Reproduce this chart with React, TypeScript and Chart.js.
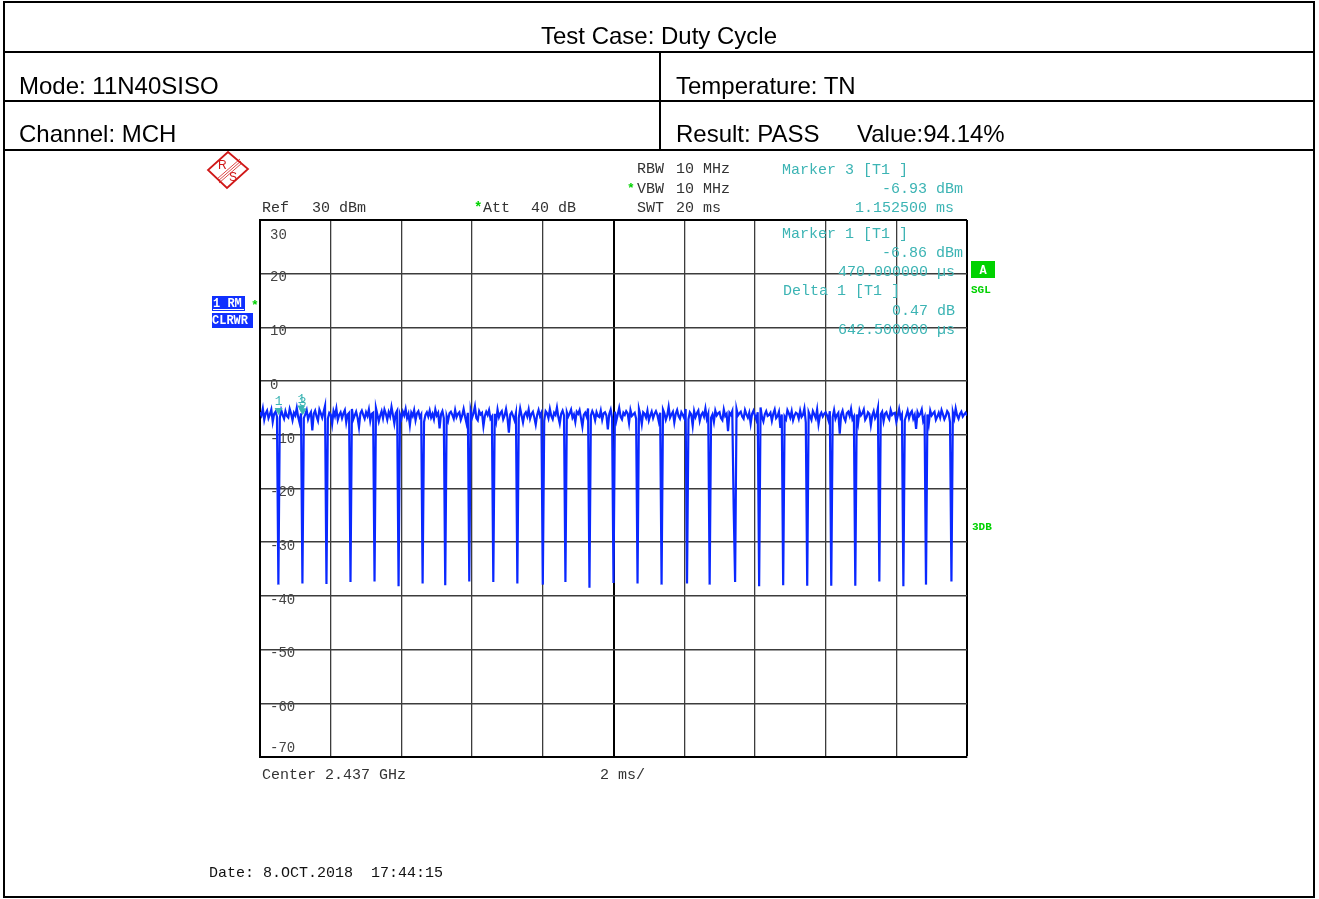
import React, { useEffect, useRef } from 'react';
import { Chart, registerables } from 'chart.js';

Chart.register(...registerables);

// ---------------- data ----------------
const sweepStepMs = 0.04; // 501 sweep points over 20 ms
const sweepStartMs = 0;
const sweepEndMs = 20;
const refMin = -70;
const refMax = 30;

// noisy burst level (dBm)
const baselineDbm = [
  -5.8,-6.4,-5.1,-7.2,-6.0,-5.5,-6.9,-6.2,-5.3,-7.6,-6.1,-5.7,-6.6,-8.3,-6.9,-5.4,-6.3,-7.0,-5.6,-6.5,
  -6.8,-5.2,-6.1,-7.3,-5.9,-6.4,-5.0,-6.7,-7.8,-6.0,-5.6,-6.9,-6.2,-5.4,-7.1,-6.3,-5.8,-9.2,-6.1,-5.5,
  -6.6,-7.4,-5.3,-6.0,-6.8,-5.7,-4.6,-6.4,-7.0,-5.9,-6.2,-8.0,-5.6,-6.5,-5.1,-7.2,-6.3,-5.8,-6.9,-6.0,
  -5.4,-7.7,-6.2,-5.9,-6.6,-5.2,-7.1,-6.4,-5.7,-6.8,-8.6,-6.0,-5.5,-6.3,-7.0,-5.8,-6.5,-5.3,-7.4,-6.1,
  -5.9,-6.7,-5.0,-6.2,-7.5,-6.4,-5.6,-6.9,-5.3,-6.1,-7.2,-5.8,-6.6,-4.8,-6.3,-7.9,-6.0,-5.5,-6.8,-6.2,
  -7.0,-5.7,-6.4,-5.2,-6.9,-6.1,-8.2,-5.9,-6.5,-5.4,-7.3,-6.0,-5.6,-6.7,-6.2,-5.1,-7.6,-6.3,-5.8,-6.6,
  -5.5,-6.8,-6.1,-7.1,-5.3,-6.4,-5.9,-8.8,-6.2,-5.6,-6.9,-5.0,-6.5,-7.4,-6.0,-5.7,-6.3,-7.0,-5.4,-6.7,
  -6.1,-5.8,-7.2,-6.4,-5.2,-6.6,-7.8,-5.9,-6.3,-5.5,-6.8,-6.0,-4.7,-6.9,-7.3,-5.6,-6.2,-5.9,-8.4,-6.5,
  -5.7,-6.3,-5.4,-7.0,-6.6,-5.9,-6.1,-7.5,-5.3,-6.7,-6.0,-5.6,-7.1,-6.4,-5.2,-6.8,-9.6,-6.2,-5.8,-6.5,
  -7.3,-6.0,-5.5,-6.9,-5.1,-6.4,-7.7,-6.2,-5.8,-6.6,-5.3,-7.0,-6.1,-5.7,-6.8,-8.1,-6.3,-5.4,-6.5,-5.9,
  -6.2,-7.4,-5.6,-6.0,-6.9,-5.2,-6.5,-7.1,-5.9,-6.3,-4.9,-6.7,-7.9,-6.1,-5.5,-6.4,-7.2,-5.8,-6.6,-6.0,
  -5.3,-6.8,-6.2,-7.6,-5.7,-6.1,-5.4,-6.9,-8.5,-6.3,-5.9,-6.6,-5.1,-7.0,-6.4,-5.6,-6.2,-7.3,-5.8,-6.5,
  -6.7,-5.5,-7.2,-6.0,-5.8,-6.4,-9.0,-6.1,-5.3,-6.9,-6.5,-5.7,-7.4,-6.2,-5.0,-6.6,-7.1,-5.9,-6.3,-5.6,
  -6.0,-7.8,-5.4,-6.5,-6.2,-5.9,-7.0,-6.7,-5.2,-6.3,-8.0,-5.8,-6.1,-6.8,-5.5,-7.3,-6.4,-5.7,-6.9,-6.1,
  -5.6,-6.3,-7.5,-5.9,-6.6,-5.3,-6.0,-7.2,-6.4,-4.8,-6.8,-6.2,-5.7,-7.7,-6.1,-5.4,-6.5,-7.0,-5.8,-6.3,
  -6.9,-5.2,-6.4,-7.1,-5.8,-6.2,-8.3,-5.6,-6.7,-6.0,-5.5,-7.4,-6.3,-5.9,-6.6,-5.1,-7.0,-6.1,-5.7,-6.8,
  -6.2,-7.6,-5.5,-6.4,-6.0,-5.8,-6.9,-7.3,-5.3,-6.5,-6.1,-9.3,-5.9,-6.3,-5.6,-7.1,-6.7,-5.2,-6.4,-6.0,
  -5.7,-6.6,-7.0,-5.4,-6.2,-6.8,-5.9,-7.9,-6.1,-5.5,-6.4,-7.2,-5.8,-6.0,-4.9,-6.7,-7.5,-6.2,-5.6,-6.5,
  -6.3,-5.9,-7.4,-6.1,-5.3,-6.9,-6.5,-5.7,-8.7,-6.2,-5.8,-6.6,-7.1,-5.4,-6.0,-6.8,-5.6,-7.3,-6.4,-5.9,
  -6.1,-7.0,-5.5,-6.7,-6.3,-5.1,-7.7,-6.0,-5.8,-6.5,-7.2,-5.6,-6.2,-6.9,-5.3,-8.0,-6.4,-5.9,-6.6,-6.1,
  -5.8,-6.4,-7.3,-5.6,-6.1,-6.7,-5.4,-7.0,-6.3,-5.9,-9.8,-6.2,-5.5,-6.8,-7.4,-6.0,-5.7,-6.5,-5.2,-7.1,
  -6.6,-5.9,-6.2,-7.8,-5.5,-6.4,-6.0,-5.3,-7.2,-6.7,-5.8,-6.1,-8.2,-6.4,-5.6,-6.9,-6.3,-5.0,-7.0,-6.2,
  -5.7,-7.5,-6.1,-5.8,-6.6,-7.1,-5.4,-6.3,-6.0,-5.9,-7.6,-6.5,-5.2,-6.8,-6.2,-5.7,-7.3,-6.4,-5.5,-6.9,
  -6.0,-5.6,-7.0,-6.3,-8.9,-5.8,-6.5,-6.1,-5.3,-7.4,-6.7,-5.9,-6.2,-7.9,-5.5,-6.4,-6.0,-5.7,-7.2,-6.6,
  -5.9,-6.8,-5.4,-6.2,-7.1,-6.5,-5.6,-6.0,-7.7,-6.3,-5.8,-6.9,-5.1,-6.4,-7.0,-6.1,-5.7,-6.6,-6.2,-5.9,
  -6.4,
];

// gaps between bursts (time in ms, floor level in dBm)
const dipTimeMs = [
  0.52, 1.20, 1.88, 2.56, 3.24, 3.92, 4.60, 5.24, 5.92, 6.60,
  7.28, 8.00, 8.64, 9.32, 10.00, 10.68, 11.36, 12.08, 12.72, 13.44,
  14.12, 14.80, 15.48, 16.16, 16.84, 17.52, 18.20, 18.84, 19.56,
];
const dipFloorDbm = [
  -37.9, -37.7, -37.8, -37.4, -37.3, -38.2, -37.7, -38.0, -37.3, -37.4,
  -37.7, -37.9, -37.4, -38.5, -37.6, -37.7, -37.9, -37.7, -37.9, -37.4,
  -38.2, -38.0, -38.1, -38.1, -38.1, -37.3, -38.2, -37.9, -37.3,
];
const partialDipTimeMs = [13.40];
const partialDipDbm = [-23.7];

// markers
const markerTimeMs = [0.47, 1.1125, 1.1525];
const markerDbm = [-6.86, -6.39, -6.93];
const markerLabels = ['1', '1', '3'];

const yTickValues = [30, 20, 10, 0, -10, -20, -30, -40, -50, -60, -70];

// ---------------- styles ----------------
const TRACE = '#0a28ff';
const TEAL = '#3cb4b4';
const GREEN = '#00d200';
const GRID = '#3c3c3c';
const TXT = '#333333';
const MONO = '"Liberation Mono", "Courier New", monospace';

const buildTrace = () => {
  const pts = baselineDbm.map((v, i) => ({ x: +(i * sweepStepMs).toFixed(3), y: v }));
  dipTimeMs.forEach((t, k) => {
    const i = Math.round(t / sweepStepMs);
    if (pts[i]) pts[i].y = dipFloorDbm[k];
  });
  partialDipTimeMs.forEach((t, k) => {
    const i = Math.round(t / sweepStepMs);
    if (pts[i]) pts[i].y = partialDipDbm[k];
  });
  return pts;
};

const overlayPlugin = {
  id: 'rsOverlay',
  beforeDraw(chart: any) {
    const ctx = chart.ctx;
    ctx.save();
    ctx.fillStyle = '#ffffff';
    ctx.fillRect(0, 0, chart.width, chart.height);
    ctx.restore();
  },
  beforeDatasetsDraw(chart: any) {
    const ctx = chart.ctx;
    const ys = chart.scales.y;
    const left = chart.chartArea.left;
    ctx.save();
    ctx.font = `14px ${MONO}`;
    ctx.fillStyle = '#444';
    ctx.textBaseline = 'middle';
    ctx.textAlign = 'left';
    yTickValues.forEach((v) => {
      const y = ys.getPixelForValue(v);
      const off = v === refMax ? 15 : v === refMin ? -9 : 4;
      ctx.fillText(String(v), left + 10, y + off);
    });
    ctx.restore();
  },
  afterDraw(chart: any) {
    const ctx = chart.ctx;
    const xs = chart.scales.x;
    const ys = chart.scales.y;
    ctx.save();

    // markers
    markerTimeMs.forEach((t, i) => {
      const px = xs.getPixelForValue(t) + 2;
      const py = ys.getPixelForValue(markerDbm[i]) - 3;
      ctx.fillStyle = TEAL;
      ctx.beginPath();
      ctx.moveTo(px, py);
      ctx.lineTo(px - 4, py - 7);
      ctx.lineTo(px + 4, py - 7);
      ctx.closePath();
      ctx.fill();
      ctx.font = `13px ${MONO}`;
      ctx.textAlign = 'center';
      ctx.textBaseline = 'middle';
      ctx.fillText(markerLabels[i], px, py - 13);
    });

    const t = (s: string, x: number, y: number, color = TXT, font = `15px ${MONO}`) => {
      ctx.font = font;
      ctx.fillStyle = color;
      ctx.textAlign = 'left';
      ctx.textBaseline = 'middle';
      ctx.fillText(s, x, y);
    };

    // header info
    t('RBW', 637, 169);
    t('10 MHz', 676, 169);
    t('*', 627, 189, GREEN, `bold 13px ${MONO}`);
    t('VBW', 637, 189);
    t('10 MHz', 676, 189);
    t('SWT', 637, 208);
    t('20 ms', 676, 208);
    t('Ref', 262, 208);
    t('30 dBm', 312, 208);
    t('*', 474, 208, GREEN, `bold 14px ${MONO}`);
    t('Att', 483, 208);
    t('40 dB', 531, 208);

    // marker readouts
    t('Marker 3 [T1 ]', 782, 170, TEAL);
    t('1.152500 ms', 855, 208, TEAL);
    t('Marker 1 [T1 ]', 782, 234, TEAL);
    t('470.000000 \u00b5s', 838, 272, TEAL);
    t('Delta 1 [T1 ]', 783, 291, TEAL);
    t('0.47 dB', 892, 311, TEAL);
    t('642.500000 \u00b5s', 838, 330, TEAL);
    ctx.save();
    ctx.beginPath();
    ctx.rect(0, 0, 964, chart.height);
    ctx.clip();
    t('-6.93 dBm', 882, 189, TEAL);
    t('-6.86 dBm', 882, 253, TEAL);
    ctx.restore();

    // footer
    t('Center 2.437 GHz', 262, 775);
    t('2 ms/', 600, 775);
    t('Date: 8.OCT.2018  17:44:15', 209, 873, '#111');

    // left trace labels
    ctx.fillStyle = '#1030ff';
    ctx.fillRect(212, 296, 33, 15);
    ctx.fillRect(212, 313, 41, 15);
    t('1 RM', 213, 304, '#ffffff', `bold 12px ${MONO}`);
    ctx.fillStyle = '#ffffff';
    ctx.fillRect(213, 309, 31, 1);
    t('CLRWR', 212, 321, '#ffffff', `bold 12px ${MONO}`);
    t('*', 251, 306, GREEN, `bold 13px ${MONO}`);

    // right status labels
    ctx.fillStyle = GREEN;
    ctx.fillRect(971, 261, 24, 17);
    ctx.font = `bold 12px ${MONO}`;
    ctx.fillStyle = '#ffffff';
    ctx.textAlign = 'center';
    ctx.textBaseline = 'middle';
    ctx.fillText('A', 983, 271);
    t('SGL', 971, 290, GREEN, `bold 11px ${MONO}`);
    t('3DB', 972, 527, GREEN, `bold 11px ${MONO}`);

    ctx.restore();
  },
};

const isEdge = (v: number, edges: number[]) => edges.includes(v);

function Instrument() {
  const ref = useRef<HTMLCanvasElement | null>(null);
  useEffect(() => {
    if (!ref.current) return;
    const chart = new Chart(ref.current, {
      type: 'line',
      data: {
        datasets: [
          {
            data: buildTrace(),
            borderColor: TRACE,
            borderWidth: 2.2,
            pointRadius: 0,
            tension: 0,
            fill: false,
            borderJoinStyle: 'miter',
          },
        ],
      },
      options: {
        animation: false,
        responsive: false,
        maintainAspectRatio: false,
        devicePixelRatio: 1,
        layout: { padding: { left: 260, top: 220, right: 352, bottom: 142 } },
        plugins: { legend: { display: false }, tooltip: { enabled: false } },
        scales: {
          x: {
            type: 'linear',
            min: sweepStartMs,
            max: sweepEndMs,
            ticks: { display: false, stepSize: 2 },
            grid: {
              drawTicks: false,
              color: (c: any) => (isEdge(c.tick?.value, [10, 20]) ? '#000' : GRID),
              lineWidth: (c: any) => (isEdge(c.tick?.value, [10, 20]) ? 2 : 1.3),
            },
            border: { display: true, color: '#000', width: 2 },
          },
          y: {
            type: 'linear',
            min: refMin,
            max: refMax,
            ticks: { display: false, stepSize: 10 },
            grid: {
              drawTicks: false,
              color: (c: any) => (c.tick?.value === refMax ? '#000' : GRID),
              lineWidth: (c: any) => (c.tick?.value === refMax ? 2 : 1.6),
            },
            border: { display: true, color: '#000', width: 2 },
          },
        },
      },
      plugins: [overlayPlugin],
    });
    return () => chart.destroy();
  }, []);
  return <canvas ref={ref} width={1319} height={899} style={{ position: 'absolute', left: 0, top: 0 }} />;
}

const hLine = (top: number) => (
  <div style={{ position: 'absolute', left: 3, top, width: 1312, height: 2, background: '#000' }} />
);

const label = (text: string, left: number, baseline: number, center = false) => (
  <div
    style={{
      position: 'absolute',
      left: center ? left - 300 : left,
      width: center ? 600 : undefined,
      textAlign: center ? 'center' : 'left',
      top: baseline - 20,
      fontFamily: '"Liberation Sans", Arial, sans-serif',
      fontSize: 24,
      lineHeight: '24px',
      whiteSpace: 'pre',
      color: '#000',
    }}
  >
    {text}
  </div>
);

export default function App() {
  return (
    <div style={{ position: 'fixed', left: 0, top: 0, width: 1319, height: 899, background: '#fff', overflow: 'hidden' }}>
      <Instrument />
      <div
        style={{
          position: 'absolute',
          left: 3,
          top: 1,
          width: 1312,
          height: 897,
          border: '2px solid #000',
          boxSizing: 'border-box',
        }}
      />
      {hLine(51)}
      {hLine(100)}
      {hLine(149)}
      <div style={{ position: 'absolute', left: 659, top: 51, width: 2, height: 100, background: '#000' }} />
      {label('Test Case: Duty Cycle', 659, 44, true)}
      {label('Mode: 11N40SISO', 19, 94)}
      {label('Channel: MCH', 19, 142)}
      {label('Temperature: TN', 676, 94)}
      {label('Result: PASS', 676, 142)}
      {label('Value:94.14%', 857, 142)}
      <svg width={46} height={42} style={{ position: 'absolute', left: 205, top: 150 }}>
        <polygon points="23,2 43,19 22,38 3,20" fill="none" stroke="#d01818" strokeWidth={1.8} />
        <line x1={35} y1={9} x2={12} y2={29} stroke="#d01818" strokeWidth={0.8} />
        <line x1={36} y1={11} x2={13} y2={31} stroke="#d01818" strokeWidth={0.8} />
        <line x1={37} y1={13} x2={14} y2={33} stroke="#d01818" strokeWidth={0.8} />
        <text x={13} y={19} fontSize={12} fill="#d01818" fontFamily="Liberation Sans">R</text>
        <text x={24} y={31} fontSize={12} fill="#d01818" fontFamily="Liberation Sans">S</text>
      </svg>
    </div>
  );
}
